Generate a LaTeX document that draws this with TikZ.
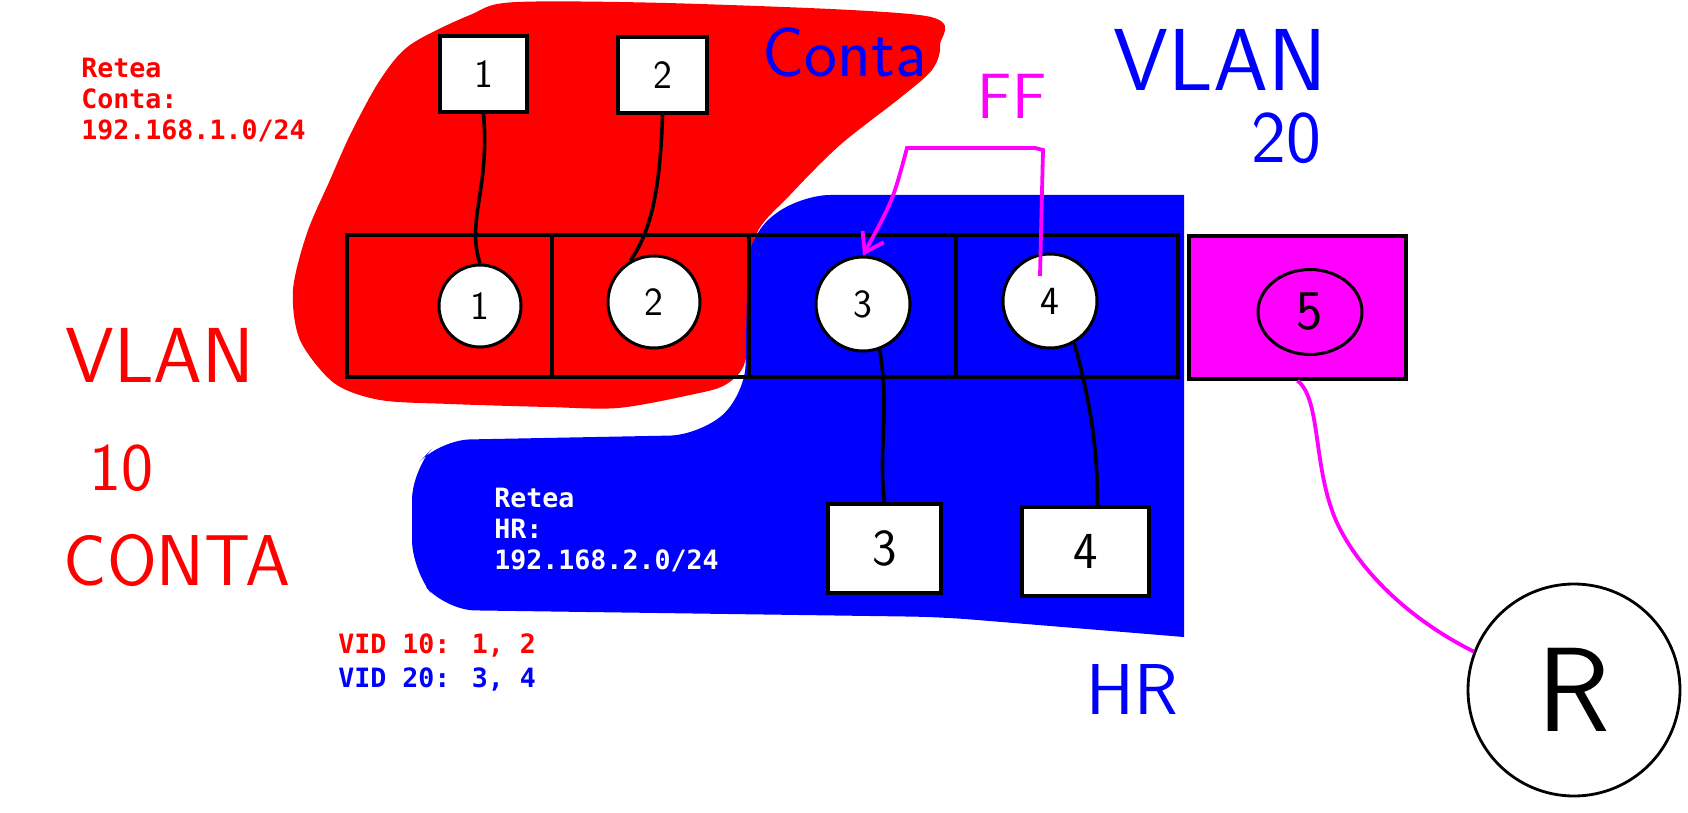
\documentclass[tikz,border=0pt]{standalone}
\usepackage{fontspec}
\newfontfamily\vidfont{DejaVu Sans Mono}
\usetikzlibrary{shapes.geometric,arrows.meta}
\definecolor{ffpink}{RGB}{255,0,255}

\begin{document}
\begin{tikzpicture}[x=0.5pt,y=-0.5pt,
  pcbox/.style={draw=black,fill=white,line width=1.7pt,inner sep=0pt},
  port/.style={circle,draw=black,fill=white,line width=1.5pt,inner sep=0pt},
  wire/.style={line width=1.8pt,black},
  ffline/.style={line width=1.9pt,ffpink},
  hand/.style={inner sep=0pt,font=\sffamily\fontsize{#1}{#1}\selectfont},
  netinfo/.style={inner sep=0pt,align=left,font=\vidfont\bfseries\fontsize{13.3}{15.5}\selectfont}]
  \useasboundingbox (0,0) rectangle (1688,813);
  \fill[white] (0,0) rectangle (1688,813);

  % VLAN 10 area
  \fill[red] plot[smooth cycle,tension=0.5] coordinates {(517,2) (700,4) (926,16) (940,45) (932,70) (900,98) (840,145) (790,195) (756,235) (748,300) (745,362) (725,385) (690,395) (618,408) (548,407) (450,404) (380,400) (334,383) (300,340) (293,290) (307,233) (330,180) (351,133) (380,80) (410,45) (470,15)};
  % VLAN 20 area
  \fill[blue] (1184,637) -- (1184,195) [rounded corners=15pt] -- (800,195) -- (748,235) -- (745,395) -- (700,435) -- (440,440) -- (412,470) -- (412,570) -- (445,610) -- (941,617) [sharp corners] -- (1184,637) -- cycle;

  % switch
  \draw[line width=1.7pt] (347,235) rectangle (1178,377);
  \foreach \x in {552,749,956}
     \draw[line width=1.7pt] (\x,235) -- (\x,377);
  \node[draw,fill=ffpink,line width=1.7pt,minimum width=108.5pt,minimum height=71.5pt] (p5box) at (1297.5,307.5) {};

  \node[port,minimum size=41pt,hand=20] (port1) at (480,306) {1};
  \node[port,minimum size=46pt,hand=20] (port2) at (654,302) {2};
  \node[port,minimum size=47pt,hand=20] (port3) at (863,304) {3};
  \node[port,minimum size=47pt,hand=20] (port4) at (1050,301) {4};
  \node[ellipse,draw=black,line width=1.5pt,minimum width=52pt,minimum height=42.5pt,hand=28] (port5) at (1310,312) {5};

  % hosts
  \node[pcbox,minimum width=43.5pt,minimum height=38pt,hand=20] (pc1) at (483.5,74) {1};
  \node[pcbox,minimum width=44.5pt,minimum height=38pt,hand=20] (pc2) at (662.5,75) {2};
  \node[pcbox,minimum width=56.5pt,minimum height=44.5pt,hand=26] (pc3) at (884.5,548.5) {3};
  \node[pcbox,minimum width=63.5pt,minimum height=44.5pt,hand=26] (pc4) at (1085.5,551.5) {4};
  \node[circle,draw=black,line width=1.4pt,minimum size=106pt,hand=60] (router) at (1574,690) {R};

  \draw[wire] (pc1.south) .. controls (490,190) and (466,220) .. (port1.north);
  \draw[wire] (pc2.south) .. controls (660,200) and (648,235) .. (port2.120);
  \draw[wire] (port3.-70) .. controls (890,410) and (878,450) .. (pc3.north);
  \draw[wire] (port4.-60) .. controls (1090,400) and (1098,450) .. ([xshift=6pt]pc4.north);

  % flooding
  \coordinate (ffstart) at (1040,276);
  \coordinate (ffright) at (1043,150);
  \coordinate (ffleft) at (907,148);
  \draw[ffline,-{Straight Barb[length=9pt,width=12pt]}] (ffstart) -- (ffright) -- ++(-8,-2) -- (ffleft) .. controls (893,200) .. (port3.north);
  \coordinate (trunkbend) at (1338,525);
  \draw[ffline] (p5box.south) .. controls (1322,400) and (1312,470) .. (trunkbend) .. controls (1365,580) and (1420,625) .. (router.159);

  % labels
  \node[netinfo,red,anchor=north west] (contanet) at (81,58) {Retea\\Conta:\\192.168.1.0/24};
  \node[netinfo,white,anchor=north west] (hrnet) at (494,488) {Retea\\HR:\\192.168.2.0/24};
  \node[netinfo,red,anchor=base west] (vid10) at (338,653) {VID 10: 1, 2};
  \node[netinfo,blue,anchor=base west] (vid20) at (338,687) {VID 20: 3, 4};

  \node[hand=39,red] (vlan10) at (160,355) {VLAN};
  \node[hand=34,red] (ten) at (121,468) {10};
  \node[hand=36,red] (contalbl) at (177,561) {CONTA};
  \node[hand=35,blue,anchor=base] (contatitle) at (845,77) {Conta};
  \node[hand=32,ffpink] (ff) at (1012,96) {FF};
  \node[hand=44,blue] (vlan20) at (1220,60) {VLAN};
  \node[hand=37,blue] (twenty) at (1286,138) {20};
  \node[hand=36,blue] (hrlbl) at (1132,690) {HR};
\end{tikzpicture}
\end{document}
